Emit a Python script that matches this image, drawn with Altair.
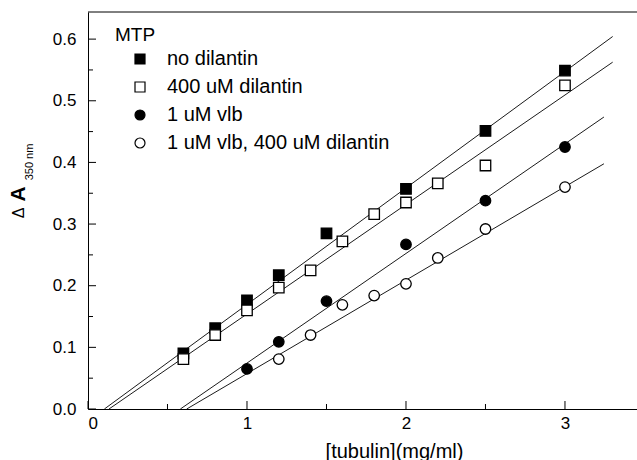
import altair as alt
import pandas as pd

# plot area size in pixels
W, H = 549, 397

series_names = ["no dilantin", "400 uM dilantin", "1 uM vlb", "1 uM vlb, 400 uM dilantin"]
series_shapes = ["square", "square", "circle", "circle"]
series_fills = ["black", "white", "black", "white"]
series_strokes = ["black", "black", "black", "black"]

# turbidity change vs tubulin concentration
nodil_x = [0.6, 0.8, 1.0, 1.2, 1.5, 2.0, 2.5, 3.0]
nodil_y = [0.090, 0.131, 0.176, 0.217, 0.285, 0.357, 0.451, 0.549]
dil_x = [0.6, 0.8, 1.0, 1.2, 1.4, 1.6, 1.8, 2.0, 2.2, 2.5, 3.0]
dil_y = [0.081, 0.120, 0.160, 0.197, 0.225, 0.272, 0.316, 0.335, 0.366, 0.395, 0.525]
vlb_x = [1.0, 1.2, 1.5, 2.0, 2.5, 3.0]
vlb_y = [0.065, 0.109, 0.175, 0.267, 0.338, 0.425]
vlbdil_x = [1.2, 1.4, 1.6, 1.8, 2.0, 2.2, 2.5, 3.0]
vlbdil_y = [0.081, 0.120, 0.169, 0.184, 0.203, 0.245, 0.292, 0.360]

# linear fits: slope, x-intercept (critical concentration), end of drawn line
fit_slope = [0.189, 0.1776, 0.1778, 0.1516]
fit_x0 = [0.103, 0.132, 0.581, 0.621]
fit_x1 = [3.30, 3.30, 3.245, 3.245]

# axis ticks
x_major = [0, 1, 2, 3]
x_minor = [0.5, 1.5, 2.5]
y_major = [0.0, 0.1, 0.2, 0.3, 0.4, 0.5, 0.6]
y_minor = [0.05, 0.15, 0.25, 0.35, 0.45, 0.55]

X_DOMAIN = [0, 3.453]
Y_DOMAIN = [0, 0.644]

rows = []
for name, xs, ys in zip(series_names,
                        [nodil_x, dil_x, vlb_x, vlbdil_x],
                        [nodil_y, dil_y, vlb_y, vlbdil_y]):
    for xv, yv in zip(xs, ys):
        rows.append({"series": name, "x": xv, "y": yv})
pts = pd.DataFrame(rows)

fit_rows = []
for name, m, x0, x1 in zip(series_names, fit_slope, fit_x0, fit_x1):
    fit_rows.append({"series": name, "x": x0, "y": 0.0})
    fit_rows.append({"series": name, "x": x1, "y": m * (x1 - x0)})
fits = pd.DataFrame(fit_rows)

xs = alt.Scale(domain=X_DOMAIN, nice=False, zero=False)
ys = alt.Scale(domain=Y_DOMAIN, nice=False, zero=False)

x_axis = alt.Axis(values=x_major, format="d", ticks=False, grid=False,
                  labelFontSize=17, labelPadding=6, labelColor="black",
                  domainColor="black", domainWidth=1,
                  title="[tubulin](mg/ml)", titleFontSize=20, titleFontWeight="normal",
                  titleColor="black", titleX=306, titleY=48, titleBaseline="alphabetic",
                  titleAnchor="start", titleAlign="center")
y_axis = alt.Axis(values=y_major, format=".1f", ticks=False, grid=False,
                  labelFontSize=17, labelPadding=12, labelColor="black",
                  domainColor="black", domainWidth=1, title=None)

legend = alt.Legend(title=None, orient="none", legendX=42, legendY=37,
                    labelFontSize=20, labelColor="black", labelOffset=17, labelLimit=0,
                    symbolSize=100, symbolStrokeColor="black", symbolStrokeWidth=1.2,
                    rowPadding=8, padding=0)

lines = alt.Chart(fits).mark_line(color="black", strokeWidth=0.9).encode(
    x=alt.X("x:Q", scale=xs, axis=x_axis),
    y=alt.Y("y:Q", scale=ys, axis=y_axis),
    detail="series:N",
)

points = alt.Chart(pts).mark_point(filled=True, strokeWidth=1.3,
                                   size=110, opacity=1).encode(
    x=alt.X("x:Q", scale=xs),
    y=alt.Y("y:Q", scale=ys),
    shape=alt.Shape("series:N", sort=series_names,
                    scale=alt.Scale(domain=series_names, range=series_shapes), legend=legend),
    fill=alt.Fill("series:N", sort=series_names,
                  scale=alt.Scale(domain=series_names, range=series_fills), legend=legend),
    stroke=alt.Stroke("series:N", sort=series_names,
                      scale=alt.Scale(domain=series_names, range=series_strokes), legend=legend),
)

# inward tick marks
xmaj = alt.Chart(pd.DataFrame({"v": x_major})).mark_rule(color="black").encode(
    x=alt.X("v:Q", scale=xs), y=alt.value(H), y2=alt.value(H - 8))
xmin = alt.Chart(pd.DataFrame({"v": x_minor})).mark_rule(color="black").encode(
    x=alt.X("v:Q", scale=xs), y=alt.value(H), y2=alt.value(H - 5))
ymaj = alt.Chart(pd.DataFrame({"v": y_major})).mark_rule(color="black").encode(
    y=alt.Y("v:Q", scale=ys), x=alt.value(0), x2=alt.value(8))
ymin = alt.Chart(pd.DataFrame({"v": y_minor})).mark_rule(color="black").encode(
    y=alt.Y("v:Q", scale=ys), x=alt.value(0), x2=alt.value(5))

top_border = alt.Chart(pd.DataFrame({"v": [0]})).mark_rule(color="black", strokeWidth=1).encode(
    x=alt.value(0), x2=alt.value(W), y=alt.value(0))

legend_title = alt.Chart(pd.DataFrame({"t": ["MTP"]})).mark_text(
    align="left", baseline="alphabetic", fontSize=19, color="black").encode(
    x=alt.value(27), y=alt.value(29), text="t:N")

# y-axis title: ΔA with 350 nm subscript, rotated
yt_delta = alt.Chart(pd.DataFrame({"t": ["Δ"]})).mark_text(
    angle=270, align="center", baseline="middle", fontSize=16, color="black").encode(
    x=alt.value(-69), y=alt.value(201), text="t:N")
yt_a = alt.Chart(pd.DataFrame({"t": ["A"]})).mark_text(
    angle=270, align="center", baseline="middle", fontSize=21, fontWeight="bold",
    color="black").encode(x=alt.value(-69), y=alt.value(182), text="t:N")
yt_sub = alt.Chart(pd.DataFrame({"t": ["350 nm"]})).mark_text(
    angle=270, align="center", baseline="middle", fontSize=11, color="black").encode(
    x=alt.value(-58), y=alt.value(150), text="t:N")

chart = alt.layer(
    lines, points, xmaj, xmin, ymaj, ymin, top_border, legend_title, yt_delta, yt_a, yt_sub
).properties(
    width=W, height=H,
    autosize=alt.AutoSizeParams(type="none"),
    padding={"left": 88, "top": 12, "right": 0, "bottom": 51},
    background="white",
).configure(
    font="Liberation Sans",
).configure_view(stroke=None)

chart.save("out.html", embed_options={"renderer": "svg", "actions": False})
